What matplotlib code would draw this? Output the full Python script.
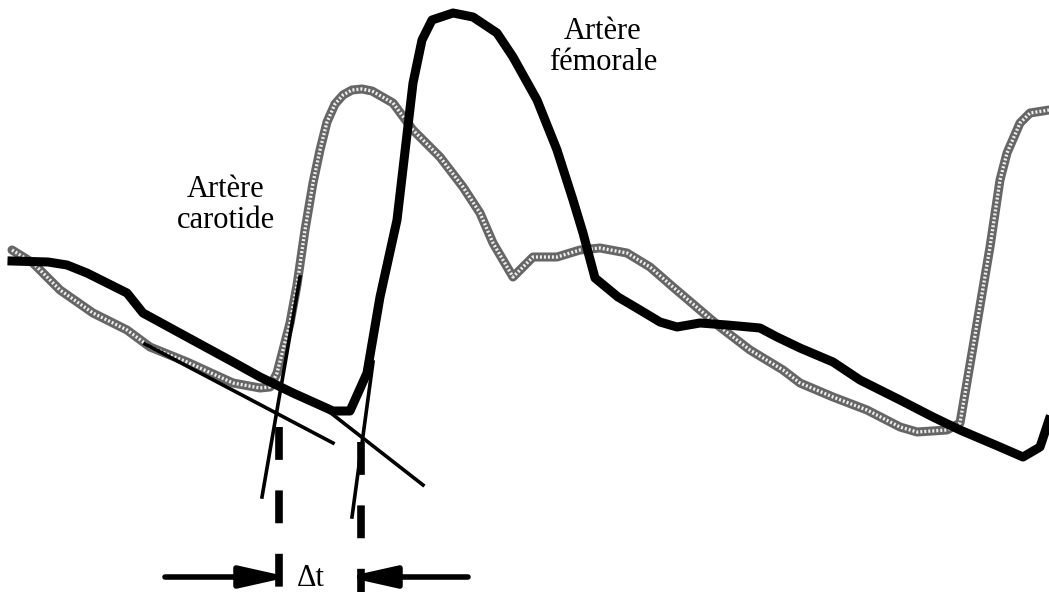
import matplotlib.pyplot as plt
from matplotlib.patches import FancyArrowPatch

plt.rcParams["font.family"] = ["Liberation Serif", "DejaVu Serif"]

# traced curves, image pixel coordinates (y grows downward)
femoral_x = [12, 48, 67, 87, 127, 143, 187, 233, 260, 293, 333, 350, 367,
             380, 397, 413, 422, 432, 453, 473, 497, 513, 537, 557, 573,
             583, 595, 618, 640, 660, 677, 700, 727, 760, 777, 800, 833,
             860, 900, 933, 960, 1000, 1023, 1040, 1049]
femoral_y = [261, 262, 265, 273, 293, 313, 337, 362, 377, 393, 411, 411, 373,
             297, 220, 83, 40, 20, 13, 17, 33, 57, 100, 150, 200,
             233, 278, 297, 310, 322, 327, 323, 325, 328, 337, 348, 362,
             380, 400, 417, 430, 447, 457, 447, 420]

carotid_x = [12, 33, 60, 93, 127, 150, 187, 233, 260, 270, 277, 283, 290,
             297, 305, 313, 320, 327, 335, 343, 352, 362, 372, 393, 413,
             440, 463, 480, 493, 513, 533, 557, 580, 600, 627, 650, 673,
             700, 720, 750, 783, 800, 833, 867, 900, 917, 947, 960, 973,
             990, 1000, 1007, 1020, 1030, 1049]
carotid_y = [250, 263, 290, 313, 330, 347, 362, 383, 388, 387, 373, 350, 323,
             285, 230, 183, 150, 122, 104, 95, 90, 89, 91, 103, 130,
             157, 187, 213, 243, 277, 257, 257, 250, 248, 253, 267, 287,
             310, 327, 350, 370, 383, 397, 410, 427, 432, 430, 423, 347,
             247, 180, 153, 123, 113, 110]

# construction lines: (x0, y0, x1, y1)
tangents = [
    (145, 344, 333, 443),   # carotid baseline
    (318, 403, 423, 485),   # femoral baseline
    (300, 277, 262, 497),   # carotid upstroke
    (373, 362, 352, 517),   # femoral upstroke
]
foot_x = [279, 361]
foot_top = [427, 442]

fig = plt.figure(figsize=(10.49, 5.92), dpi=100)
ax = fig.add_axes([0, 0, 1, 1])
ax.set_xlim(0, 1049)
ax.set_ylim(592, 0)
ax.axis("off")

# carotid: grey hatched look
ax.plot(carotid_x, carotid_y, color="#666666", lw=6.5,
        solid_joinstyle="round", solid_capstyle="round", zorder=2)
ax.plot(carotid_x, carotid_y, color="#eeeeee", lw=2.4,
        linestyle=(0, (0.6, 0.6)), zorder=3)

ax.plot(femoral_x, femoral_y, color="black", lw=6.5,
        solid_joinstyle="round", zorder=4)

for x0, y0, x1, y1 in tangents:
    ax.plot([x0, x1], [y0, y1], color="black", lw=2.6, zorder=5)

for x, top in zip(foot_x, foot_top):
    ax.plot([x, x], [top, 592], color="black", lw=5.5,
            linestyle=(0, (4.3, 4.0)), zorder=5)

head = "-|>,head_length=2.9,head_width=0.65"
ax.add_patch(FancyArrowPatch((165, 577), (289, 577), arrowstyle=head,
                             mutation_scale=10, lw=4, color="black",
                             shrinkA=0, shrinkB=0))
ax.add_patch(FancyArrowPatch((468, 577), (347, 577), arrowstyle=head,
                             mutation_scale=10, lw=4, color="black",
                             shrinkA=0, shrinkB=0))

ax.text(226, 205, "Artère\ncarotide", fontsize=22, ha="center",
        va="center", linespacing=1.12)
ax.text(603, 47, "Artère\nfémorale", fontsize=22, ha="center",
        va="center", linespacing=1.12)
ax.text(311, 578, "Δt", fontsize=22, ha="center", va="center")

fig.savefig("out.png", dpi=100)
